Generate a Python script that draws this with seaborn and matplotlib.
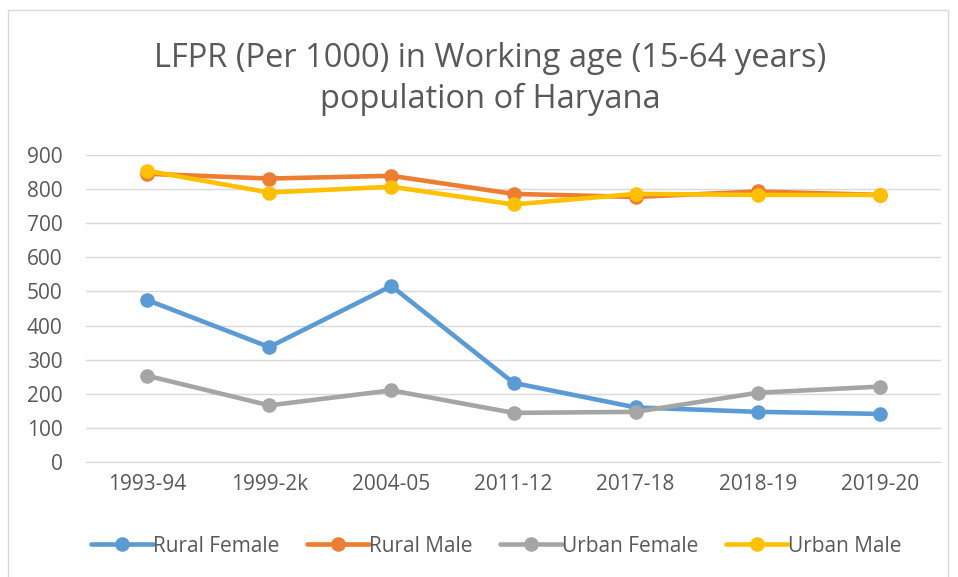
import pandas as pd
import matplotlib.pyplot as plt
import seaborn as sns
from matplotlib.patches import Rectangle

# Dados
anos = ["1993-94", "1999-2k", "2004-05", "2011-12", "2017-18", "2018-19", "2019-20"]
rural_female = [475, 337, 516, 232, 160, 147, 141]
rural_male = [845, 831, 839, 786, 777, 793, 783]
urban_female = [253, 166, 210, 144, 147, 203, 221]
urban_male = [854, 790, 807, 755, 786, 783, 783]

series = {
    "Rural Female": rural_female,
    "Rural Male": rural_male,
    "Urban Female": urban_female,
    "Urban Male": urban_male,
}
cores = ["#5B9BD5", "#ED7D31", "#A5A5A5", "#FFC000"]

df = pd.concat(
    [pd.DataFrame({"ano": anos, "valor": v, "serie": k}) for k, v in series.items()],
    ignore_index=True,
)

sns.set_style("white")
plt.rcParams["font.family"] = ["Open Sans", "DejaVu Sans"]

fig = plt.figure(figsize=(9.58, 5.77), dpi=100)
ax = fig.add_axes([86 / 958, 1 - 462 / 577, (941 - 86) / 958, (462 - 155) / 577])

sns.lineplot(
    data=df, x="ano", y="valor", hue="serie", palette=cores,
    marker="o", markersize=10.5, markeredgewidth=0, linewidth=3.3,
    sort=False, ax=ax,
)

ax.set_ylim(0, 900)
ax.set_xlim(-0.5, 6.5)
ax.set_yticks(range(0, 901, 100))
ax.grid(axis="y", color="#D9D9D9", linewidth=1)
ax.set_axisbelow(True)
for s in ["top", "right", "left"]:
    ax.spines[s].set_visible(False)
ax.spines["bottom"].set_color("#D9D9D9")
ax.tick_params(axis="both", colors="#595959", length=0)
ax.tick_params(axis="y", labelsize=15, pad=17)
ax.tick_params(axis="x", labelsize=15, pad=9)
ax.set_xlabel("")
ax.set_ylabel("")

fig.text(0.512, 1 - 79 / 577, "LFPR (Per 1000) in Working age (15-64 years)\npopulation of Haryana",
         ha="center", va="center", fontsize=23.5, color="#595959", linespacing=1.32)

ax.legend(loc="center", bbox_to_anchor=(0.518, 1 - 546 / 577), bbox_transform=fig.transFigure,
          ncol=4, frameon=False, fontsize=15, labelcolor="#595959",
          handlelength=3.0, handletextpad=0.0, columnspacing=1.3)

fig.patches.append(Rectangle((8 / 958, -0.01), (948 - 8) / 958, 1 - 10 / 577 + 0.01,
                             transform=fig.transFigure, fill=False,
                             edgecolor="#D9D9D9", linewidth=1))

fig.savefig("out.png", dpi=100)
